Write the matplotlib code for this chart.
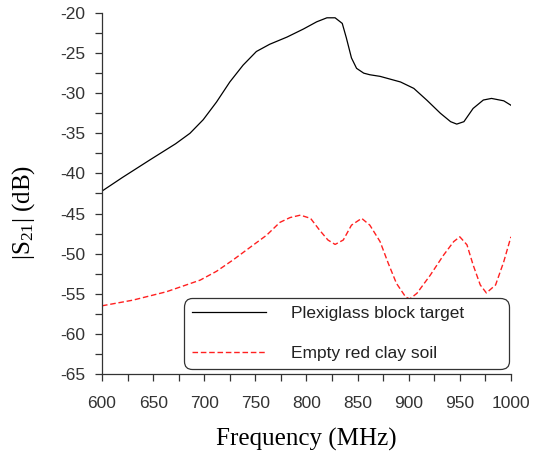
import matplotlib
matplotlib.use("Agg")
import matplotlib.pyplot as plt
from matplotlib.ticker import MultipleLocator

plt.rcParams["axes.unicode_minus"] = False
plt.rcParams["mathtext.fontset"] = "custom"
plt.rcParams["mathtext.rm"] = "Liberation Serif"
plt.rcParams["mathtext.it"] = "Liberation Serif"

# values
freq_plexi = [600, 620, 647, 672, 686, 699, 712, 725, 738, 751, 764, 781, 797, 810,
              820, 828, 835, 839, 844, 849, 856, 862, 872, 892, 905, 918, 931, 941,
              947, 954, 963, 973, 981, 993, 1000]
s21_plexi = [-42.2, -40.5, -38.3, -36.3, -35.0, -33.3, -31.1, -28.6, -26.5, -24.8,
             -23.9, -23.0, -22.0, -21.1, -20.6, -20.6, -21.3, -23.1, -25.6, -26.9,
             -27.5, -27.7, -27.9, -28.6, -29.4, -30.9, -32.5, -33.55, -33.85, -33.55,
             -31.9, -30.85, -30.65, -30.95, -31.5]

freq_soil = [600, 630, 663, 696, 712, 728, 745, 761, 774, 784, 794, 804, 813, 821,
             828, 836, 844, 854, 862, 872, 880, 888, 897, 901, 908, 921, 934, 944,
             950, 957, 963, 970, 976, 985, 993, 1000]
s21_soil = [-56.5, -55.8, -54.75, -53.3, -52.2, -50.8, -49.2, -47.7, -46.1, -45.5,
            -45.2, -45.6, -47.1, -48.3, -48.85, -48.3, -46.45, -45.6, -46.45, -48.5,
            -51.2, -53.7, -55.4, -55.65, -54.95, -52.7, -50.2, -48.5, -47.9, -48.9,
            -51.4, -53.9, -54.9, -53.9, -51.0, -47.9]

plt.figure(figsize=(5.35, 4.62), dpi=100)
ax = plt.axes([0.1907, 0.1905, 0.7643, 0.7814])

ax.plot(freq_plexi, s21_plexi, color="black", lw=0.9, label="Plexiglass block target")
ax.plot(freq_soil, s21_soil, color="#ff2020", lw=1.0, ls=(0, (4, 2)),
        label="Empty red clay soil")

ax.set_xlim(600, 1000)
ax.set_ylim(-65, -20)
ax.xaxis.set_major_locator(MultipleLocator(50))
ax.xaxis.set_minor_locator(MultipleLocator(25))
ax.yaxis.set_major_locator(MultipleLocator(5))
ax.yaxis.set_minor_locator(MultipleLocator(2.5))

for s in ["top", "right"]:
    ax.spines[s].set_visible(False)
for s in ["left", "bottom"]:
    ax.spines[s].set_color("#333333")
    ax.spines[s].set_linewidth(0.9)

ax.tick_params(which="both", direction="out", length=5, width=0.9, color="#333333")
ax.tick_params(axis="x", which="major", pad=11, labelsize=12.5, labelcolor="#333333")
ax.tick_params(axis="y", which="major", pad=7, labelsize=12.5, labelcolor="#333333")
for lab in ax.get_xticklabels() + ax.get_yticklabels():
    lab.set_family("Liberation Sans")

ax.set_xlabel("Frequency (MHz)", family="Liberation Serif", fontsize=18, labelpad=12)
ax.set_ylabel("|S$_{21}$| (dB)", family="Liberation Serif", fontsize=18)
ax.yaxis.set_label_coords(-0.16, 0.449)

leg = ax.legend(loc="lower left", bbox_to_anchor=(0.2, 0.013, 0.795, 0.187),
                mode="expand", fancybox=True, framealpha=1, edgecolor="#333333",
                prop={"family": "Liberation Sans", "size": 12.5},
                handlelength=4.3, handletextpad=1.45, labelspacing=1.45,
                borderpad=0.45, borderaxespad=0)
for t in leg.get_texts():
    t.set_color("#222222")
leg.get_frame().set_linewidth(0.9)
leg.get_frame().set_boxstyle("round,pad=0,rounding_size=0.5")

plt.savefig("out.png", dpi=100)
